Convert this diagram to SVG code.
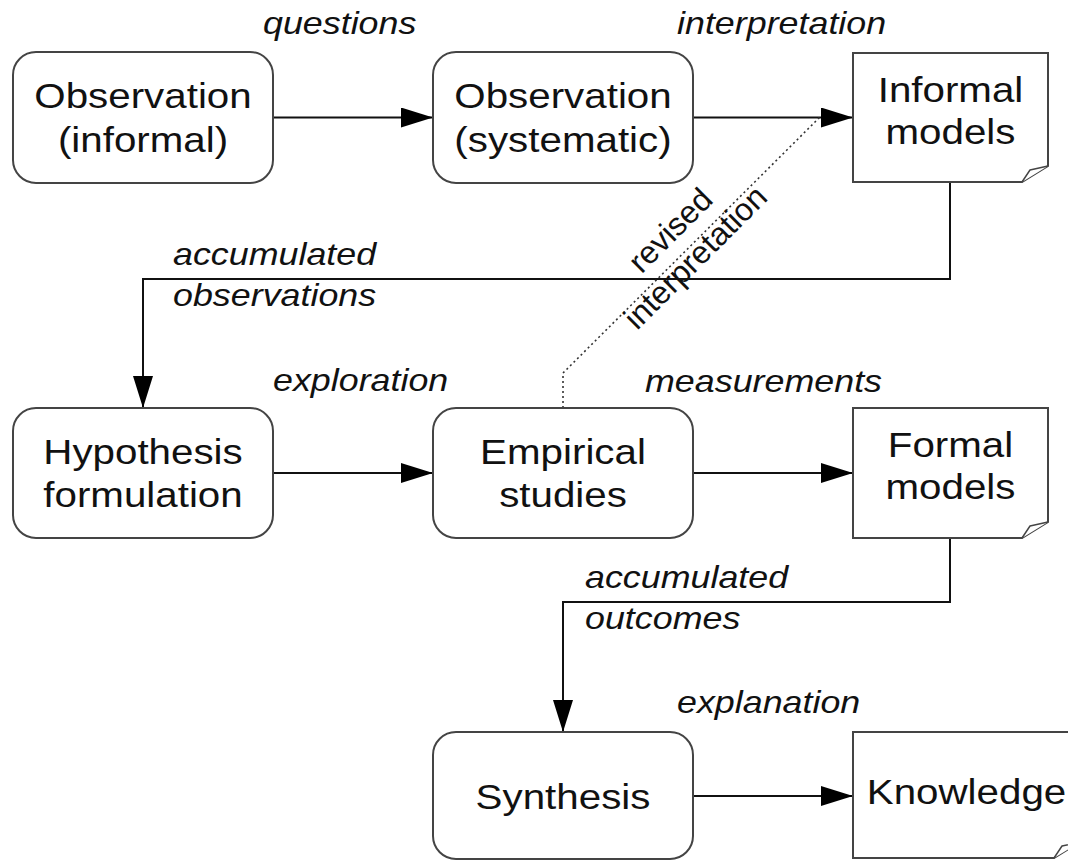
<svg xmlns="http://www.w3.org/2000/svg" width="1068" height="861" viewBox="0 0 1068 861">
<defs>
<marker id="ah" markerUnits="userSpaceOnUse" markerWidth="32" markerHeight="20" refX="32" refY="10" orient="auto">
<path d="M0,0 L32,10 L0,20 Z" fill="#000"/>
</marker>
<style>
.box{fill:#fff;stroke:#444;stroke-width:2}
.fold{fill:#fff;stroke:#444;stroke-width:1.5;stroke-linejoin:round}
.nt{font-family:"Liberation Sans",Arial,Helvetica,sans-serif;font-size:36px;fill:#111;text-anchor:middle}
.lb{font-family:"Liberation Sans",Arial,Helvetica,sans-serif;font-size:32px;font-style:italic;fill:#111}
.cn{fill:none;stroke:#111;stroke-width:2}
.dot{fill:none;stroke:#333;stroke-width:1.6;stroke-dasharray:2 3}
</style>
</defs>
<rect width="1068" height="861" fill="#fff"/>

<g id="connectors">
<line class="cn" x1="273" y1="117.5" x2="433" y2="117.5" marker-end="url(#ah)"/>
<line class="cn" x1="693" y1="117.5" x2="853" y2="117.5" marker-end="url(#ah)"/>
<polyline class="cn" points="950,182 950,279 143,279 143,408" marker-end="url(#ah)"/>
<line class="cn" x1="273" y1="473" x2="433" y2="473" marker-end="url(#ah)"/>
<line class="cn" x1="693" y1="473" x2="853" y2="473" marker-end="url(#ah)"/>
<polyline class="cn" points="950,538 950,602 563,602 563,732" marker-end="url(#ah)"/>
<line class="cn" x1="693" y1="796" x2="853" y2="796" marker-end="url(#ah)"/>
<polyline class="dot" points="563,408 563,373 820,117"/>
<g id="labels">
<text class="lb" transform="translate(263,34) scale(1.12,1)">questions</text>
<text class="lb" transform="translate(677,34) scale(1.12,1)">interpretation</text>
<text class="lb" transform="translate(173,265) scale(1.12,1)">accumulated</text>
<text class="lb" transform="translate(173,306) scale(1.12,1)">observations</text>
<text class="lb" transform="translate(273,391) scale(1.12,1)">exploration</text>
<text class="lb" transform="translate(645,392) scale(1.12,1)">measurements</text>
<text class="lb" transform="translate(585,588) scale(1.12,1)">accumulated</text>
<text class="lb" transform="translate(585,629) scale(1.12,1)">outcomes</text>
<text class="lb" transform="translate(677,713) scale(1.12,1)">explanation</text>
<text class="lb" style="font-style:normal;font-size:32px" text-anchor="middle" transform="translate(678,238) rotate(-45)">revised</text>
<text class="lb" style="font-style:normal;font-size:32px" text-anchor="middle" transform="translate(703,265) rotate(-45)">interpretation</text>
</g>
</g>

<g id="obs-informal">
<rect class="box" x="13" y="52" width="260" height="131" rx="23"/>
<text class="nt" transform="translate(143,108) scale(1.12,1)"><tspan x="0" y="0">Observation</tspan><tspan x="0" y="44">(informal)</tspan></text>
</g>
<g id="obs-systematic">
<rect class="box" x="433" y="52" width="260" height="131" rx="23"/>
<text class="nt" transform="translate(563,108) scale(1.12,1)"><tspan x="0" y="0">Observation</tspan><tspan x="0" y="44">(systematic)</tspan></text>
</g>
<g id="informal-models">
<path class="box" d="M853,53 H1048 V166 L1022,182 H853 Z"/>
<path class="fold" d="M1022,182 L1030,170 L1048,166"/>
<text class="nt" transform="translate(950.5,102) scale(1.12,1)"><tspan x="0" y="0">Informal</tspan><tspan x="0" y="42">models</tspan></text>
</g>
<g id="hypothesis">
<rect class="box" x="13" y="408" width="260" height="130" rx="23"/>
<text class="nt" transform="translate(143,463.5) scale(1.12,1)"><tspan x="0" y="0">Hypothesis</tspan><tspan x="0" y="44">formulation</tspan></text>
</g>
<g id="empirical">
<rect class="box" x="433" y="408" width="260" height="130" rx="23"/>
<text class="nt" transform="translate(563,463.5) scale(1.12,1)"><tspan x="0" y="0">Empirical</tspan><tspan x="0" y="44">studies</tspan></text>
</g>
<g id="formal-models">
<path class="box" d="M853,408 H1048 V522 L1022,538 H853 Z"/>
<path class="fold" d="M1022,538 L1030,526 L1048,522"/>
<text class="nt" transform="translate(950.5,457) scale(1.12,1)"><tspan x="0" y="0">Formal</tspan><tspan x="0" y="42">models</tspan></text>
</g>
<g id="synthesis">
<rect class="box" x="433" y="732" width="260" height="127" rx="23"/>
<text class="nt" transform="translate(563,809) scale(1.12,1)">Synthesis</text>
</g>
<g id="knowledge">
<path class="box" d="M853,732 H1080 V842 L1054,858 H853 Z"/>
<path class="fold" d="M1054,858 L1062,846 L1080,842"/>
<text class="nt" transform="translate(966.5,804) scale(1.12,1)">Knowledge</text>
</g>
</svg>
